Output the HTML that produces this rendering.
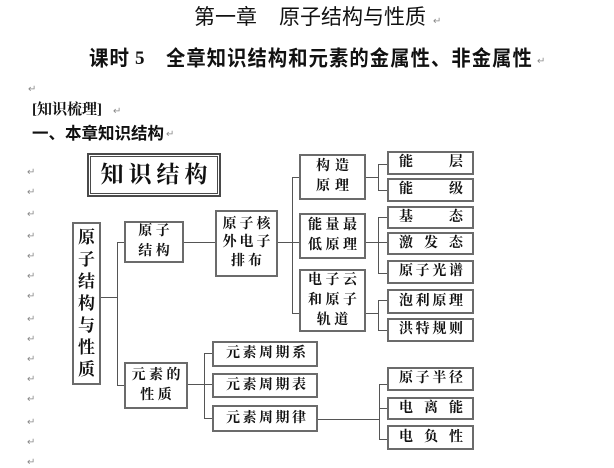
<!DOCTYPE html>
<html><head><meta charset="utf-8">
<style>
html,body{margin:0;padding:0;background:#fff;}
body{width:614px;height:468px;position:relative;overflow:hidden;}
.t{position:absolute;white-space:nowrap;color:#111;}
.s{font-family:"Liberation Sans","Noto Sans CJK SC",sans-serif;}
.r{position:absolute;font:10px "DejaVu Sans",sans-serif;color:#8a8a8a;line-height:10px;}
.h{position:absolute;height:1px;background:#555;}
.v{position:absolute;width:1px;background:#555;}
.b{position:absolute;box-sizing:border-box;border:2px solid #6b6b6b;background:#fff;display:flex;flex-direction:column;justify-content:center;align-items:center;font:bold 14px "Liberation Serif","Noto Serif CJK SC",serif;color:#111;}
.b div{line-height:20px;letter-spacing:3.5px;padding-left:3.5px;white-space:nowrap;}
.j{flex-direction:row;justify-content:space-between;padding:0 9px 0 10px;line-height:18px;}
.j2{flex-direction:row;justify-content:space-between;padding:0 10px 0 12px;line-height:18px;}
</style></head><body>

<!-- header -->
<div class="t s" style="left:194px;top:7px;font-size:21px;line-height:22px;">第一章</div>
<div class="t s" style="left:279px;top:7px;font-size:21px;line-height:22px;">原子结构与性质</div>
<div class="r" style="left:433px;top:17px;">↵</div>

<div class="t s" style="left:89px;top:48px;font-size:19.5px;line-height:21px;font-weight:bold;transform:scaleY(1.08);transform-origin:top left;letter-spacing:1px;">课时</div>
<div class="t" style="left:135px;top:48px;font:bold 19px/21px 'Liberation Serif',serif;">5</div>
<div class="t s" style="left:166px;top:48px;font-size:19.3px;line-height:21px;font-weight:bold;transform:scaleY(1.08);transform-origin:top left;letter-spacing:1.1px;">全章知识结构和元素的金属性、非金属性</div>
<div class="r" style="left:537px;top:57px;">↵</div>

<div class="r" style="left:28px;top:85px;">↵</div>
<div class="t" style="left:32px;top:102px;font:bold 15px/17px 'Liberation Serif','Noto Serif CJK SC',serif;">[知识梳理]</div>
<div class="r" style="left:113px;top:107px;">↵</div>
<div class="t s" style="left:32px;top:126px;font-size:16.5px;line-height:17px;font-weight:bold;">一、本章知识结构</div>
<div class="r" style="left:166px;top:130px;">↵</div>

<!-- left margin return marks -->
<div class="r" style="left:27px;top:168px;">↵</div>
<div class="r" style="left:27px;top:188px;">↵</div>
<div class="r" style="left:27px;top:210px;">↵</div>
<div class="r" style="left:27px;top:232px;">↵</div>
<div class="r" style="left:27px;top:252px;">↵</div>
<div class="r" style="left:27px;top:272px;">↵</div>
<div class="r" style="left:27px;top:292px;">↵</div>
<div class="r" style="left:27px;top:315px;">↵</div>
<div class="r" style="left:27px;top:335px;">↵</div>
<div class="r" style="left:27px;top:355px;">↵</div>
<div class="r" style="left:27px;top:375px;">↵</div>
<div class="r" style="left:27px;top:395px;">↵</div>
<div class="r" style="left:27px;top:418px;">↵</div>
<div class="r" style="left:27px;top:438px;">↵</div>
<div class="r" style="left:27px;top:458px;">↵</div>

<!-- connectors -->
<div class="h" style="left:101px;top:297px;width:16px;"></div>
<div class="v" style="left:117px;top:242px;height:143px;"></div>
<div class="h" style="left:117px;top:242px;width:7px;"></div>
<div class="h" style="left:117px;top:385px;width:7px;"></div>
<div class="h" style="left:184px;top:242px;width:31px;"></div>
<div class="h" style="left:278px;top:242px;width:21px;"></div>
<div class="v" style="left:292px;top:177px;height:137px;"></div>
<div class="h" style="left:292px;top:177px;width:7px;"></div>
<div class="h" style="left:292px;top:313px;width:7px;"></div>

<div class="h" style="left:366px;top:177px;width:12px;"></div>
<div class="v" style="left:378px;top:164px;height:27px;"></div>
<div class="h" style="left:378px;top:164px;width:9px;"></div>
<div class="h" style="left:378px;top:190px;width:9px;"></div>

<div class="h" style="left:366px;top:242px;width:21px;"></div>
<div class="v" style="left:378px;top:217px;height:57px;"></div>
<div class="h" style="left:378px;top:217px;width:9px;"></div>
<div class="h" style="left:378px;top:273px;width:9px;"></div>

<div class="h" style="left:366px;top:313px;width:12px;"></div>
<div class="v" style="left:378px;top:300px;height:31px;"></div>
<div class="h" style="left:378px;top:300px;width:9px;"></div>
<div class="h" style="left:378px;top:330px;width:9px;"></div>

<div class="h" style="left:188px;top:384px;width:24px;"></div>
<div class="v" style="left:204px;top:353px;height:66px;"></div>
<div class="h" style="left:204px;top:353px;width:8px;"></div>
<div class="h" style="left:204px;top:418px;width:8px;"></div>

<div class="h" style="left:318px;top:419px;width:61px;"></div>
<div class="v" style="left:379px;top:384px;height:56px;"></div>
<div class="h" style="left:379px;top:384px;width:9px;"></div>
<div class="h" style="left:379px;top:408px;width:9px;"></div>
<div class="h" style="left:379px;top:439px;width:9px;"></div>

<!-- 知识结构 title box -->
<div style="position:absolute;left:87px;top:153px;width:134px;height:44px;box-sizing:border-box;border:2px solid #4a4a4a;background:#fff;">
  <div style="position:absolute;left:1px;top:1px;right:1px;bottom:1px;border:1px solid #4a4a4a;display:flex;align-items:center;justify-content:center;">
    <span style="font:bold 23px/26px 'Liberation Serif','Noto Serif CJK SC',serif;letter-spacing:5px;padding-left:5px;color:#111;">知识结构</span>
  </div>
</div>

<!-- tall root box -->
<div class="b" style="left:72px;top:222px;width:29px;height:163px;font-size:17px;">
  <div style="line-height:22px;letter-spacing:0;padding:0;">原</div>
  <div style="line-height:22px;letter-spacing:0;padding:0;">子</div>
  <div style="line-height:22px;letter-spacing:0;padding:0;">结</div>
  <div style="line-height:22px;letter-spacing:0;padding:0;">构</div>
  <div style="line-height:22px;letter-spacing:0;padding:0;">与</div>
  <div style="line-height:22px;letter-spacing:0;padding:0;">性</div>
  <div style="line-height:22px;letter-spacing:0;padding:0;">质</div>
</div>

<div class="b" style="left:124px;top:221px;width:60px;height:42px;"><div>原子</div><div>结构</div></div>
<div class="b" style="left:215px;top:210px;width:63px;height:67px;"><div style="line-height:18.5px;letter-spacing:3px;padding-left:3px;">原子核</div><div style="line-height:18.5px;letter-spacing:3px;padding-left:3px;">外电子</div><div style="line-height:18.5px;letter-spacing:3px;padding-left:3px;">排布</div></div>
<div class="b" style="left:124px;top:362px;width:64px;height:47px;"><div>元素的</div><div>性质</div></div>

<div class="b" style="left:299px;top:154px;width:67px;height:46px;"><div style="letter-spacing:5px;padding-left:5px;">构造</div><div style="letter-spacing:5px;padding-left:5px;">原理</div></div>
<div class="b" style="left:299px;top:213px;width:67px;height:46px;"><div>能量最</div><div>低原理</div></div>
<div class="b" style="left:299px;top:269px;width:67px;height:63px;"><div>电子云</div><div>和原子</div><div>轨道</div></div>

<div class="b j" style="left:387px;top:151px;width:87px;height:24px;"><span>能</span><span>层</span></div>
<div class="b j" style="left:387px;top:178px;width:87px;height:24px;"><span>能</span><span>级</span></div>
<div class="b j" style="left:387px;top:206px;width:87px;height:23px;"><span>基</span><span>态</span></div>
<div class="b j" style="left:387px;top:232px;width:87px;height:23px;"><span>激</span><span>发</span><span>态</span></div>
<div class="b j" style="left:387px;top:260px;width:87px;height:24px;"><span>原</span><span>子</span><span>光</span><span>谱</span></div>
<div class="b j" style="left:387px;top:289px;width:87px;height:25px;"><span>泡</span><span>利</span><span>原</span><span>理</span></div>
<div class="b j" style="left:387px;top:318px;width:87px;height:24px;"><span>洪</span><span>特</span><span>规</span><span>则</span></div>

<div class="b j2" style="left:212px;top:341px;width:106px;height:26px;"><span>元</span><span>素</span><span>周</span><span>期</span><span>系</span></div>
<div class="b j2" style="left:212px;top:373px;width:106px;height:25px;"><span>元</span><span>素</span><span>周</span><span>期</span><span>表</span></div>
<div class="b j2" style="left:212px;top:405px;width:106px;height:27px;"><span>元</span><span>素</span><span>周</span><span>期</span><span>律</span></div>

<div class="b j" style="left:387px;top:367px;width:87px;height:24px;"><span>原</span><span>子</span><span>半</span><span>径</span></div>
<div class="b j" style="left:387px;top:397px;width:87px;height:23px;"><span>电</span><span>离</span><span>能</span></div>
<div class="b j" style="left:387px;top:425px;width:87px;height:25px;"><span>电</span><span>负</span><span>性</span></div>

</body></html>
